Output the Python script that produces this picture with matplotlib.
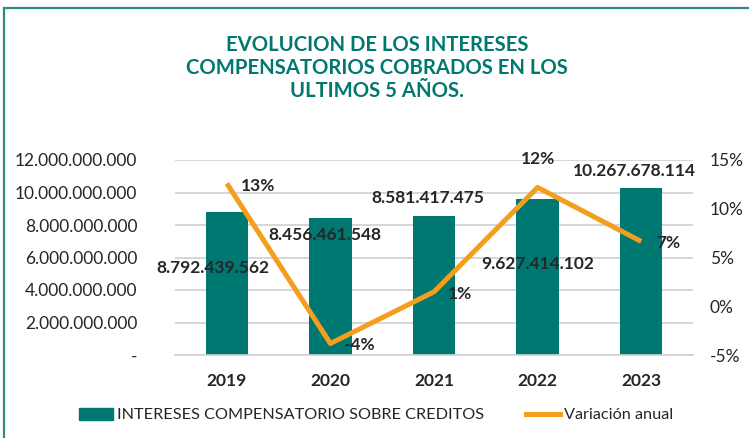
import matplotlib
matplotlib.use("Agg")
import matplotlib.pyplot as plt
from matplotlib.patches import Rectangle
from matplotlib.lines import Line2D
from matplotlib.ticker import FuncFormatter, MultipleLocator

plt.rcParams['font.family'] = ['Lato', 'DejaVu Sans']

years = ["2019", "2020", "2021", "2022", "2023"]
intereses = [8792439562, 8456461548, 8581417475, 9627414102, 10267678114]
variacion = [12.6, -3.82, 1.48, 12.19, 6.65]
var_labels = ["13%", "-4%", "1%", "12%", "7%"]
bar_label_text = ["8.792.439.562", "8.456.461.548", "8.581.417.475", "9.627.414.102", "10.267.678.114"]
title = "EVOLUCION DE LOS INTERESES\nCOMPENSATORIOS COBRADOS EN LOS\nULTIMOS 5 AÑOS."

TEAL = "#007872"
ORANGE = "#F49E1E"
TITLE_C = "#00776F"
TXT = "#262626"

W, H = 749, 438
fig = plt.figure(figsize=(W/100, H/100), dpi=100)

# outer frame
fig.add_artist(Rectangle((4/W, -0.1), 1.2, 1 - 8/H + 0.1, transform=fig.transFigure,
                         fill=False, edgecolor="#2E8B80", linewidth=1.6))

ax = fig.add_axes([175/W, 1-355/H, (693-175)/W, (355-160)/H])
x = list(range(len(years)))
ax.bar(x, intereses, width=0.41, color=TEAL, zorder=2)
ax.set_xlim(-0.5, 4.5)
ax.set_ylim(0, 12e9)
ax.yaxis.set_major_locator(MultipleLocator(2e9))
ax.yaxis.set_major_formatter(FuncFormatter(lambda v, p: "-" if v == 0 else f"{v:,.0f}".replace(",", ".")))
ax.grid(axis='y', color="#D0D0D0", linewidth=1.2, zorder=0)
for s in ["top", "right", "left"]:
    ax.spines[s].set_visible(False)
ax.spines["bottom"].set_color("#D0D0D0")
ax.spines["bottom"].set_linewidth(1.2)
ax.tick_params(axis='y', length=0, pad=27, labelsize=12.5, labelcolor=TXT)
ax.tick_params(axis='x', length=0, pad=13, labelsize=12.5, labelcolor=TXT)
ax.set_xticks(x)
ax.set_xticklabels(years, fontweight='bold')

ax2 = ax.twinx()
ax2.set_ylim(-5, 15)
ax2.yaxis.set_major_locator(MultipleLocator(5))
ax2.yaxis.set_major_formatter(FuncFormatter(lambda v, p: f"{v:.0f}%"))
for s in ax2.spines.values():
    s.set_visible(False)
ax2.tick_params(axis='y', length=0, pad=12, labelsize=12.5, labelcolor=TXT)
ax2.plot(x, variacion, color=ORANGE, linewidth=3.6, solid_capstyle='butt', zorder=3)

# bar labels (positions in data coords)
bar_lab_dx = [-0.13, -0.05, -0.06, 0.0, -0.07]
bar_lab_y = [5.35e9, 7.38e9, 9.66e9, 5.6e9, 11.32e9]
for i in x:
    ax.text(i + bar_lab_dx[i], bar_lab_y[i], bar_label_text[i], ha='center', va='center',
            fontsize=12.5, fontweight='bold', color=TXT, zorder=5)

# percentage labels
pct_off = [(31, -3), (29, -2), (26, -2), (0, 28), (27, -2)]
for i in x:
    ax2.annotate(var_labels[i], xy=(i, variacion[i]), xytext=pct_off[i], textcoords='offset pixels',
                 ha='center', va='center', fontsize=12.5, fontweight='bold', color=TXT, zorder=6)

fig.text(377/W, 1-68/H, title, ha='center', va='center', fontsize=14.6, fontweight='bold',
         color=TITLE_C, linespacing=1.18)

handles = [Rectangle((0, 0), 1, 1, color=TEAL),
           Line2D([0], [0], color=ORANGE, linewidth=3.6)]
fig.legend(handles, ["INTERESES COMPENSATORIO SOBRE CREDITOS", "Variación anual"],
           loc='center', bbox_to_anchor=(376/W, 1-415/H), ncol=2, frameon=False,
           fontsize=11.7, handlelength=2.1, handleheight=0.75, handletextpad=0.25,
           columnspacing=2.6, labelcolor=TXT)

fig.savefig("out.png", dpi=100)
